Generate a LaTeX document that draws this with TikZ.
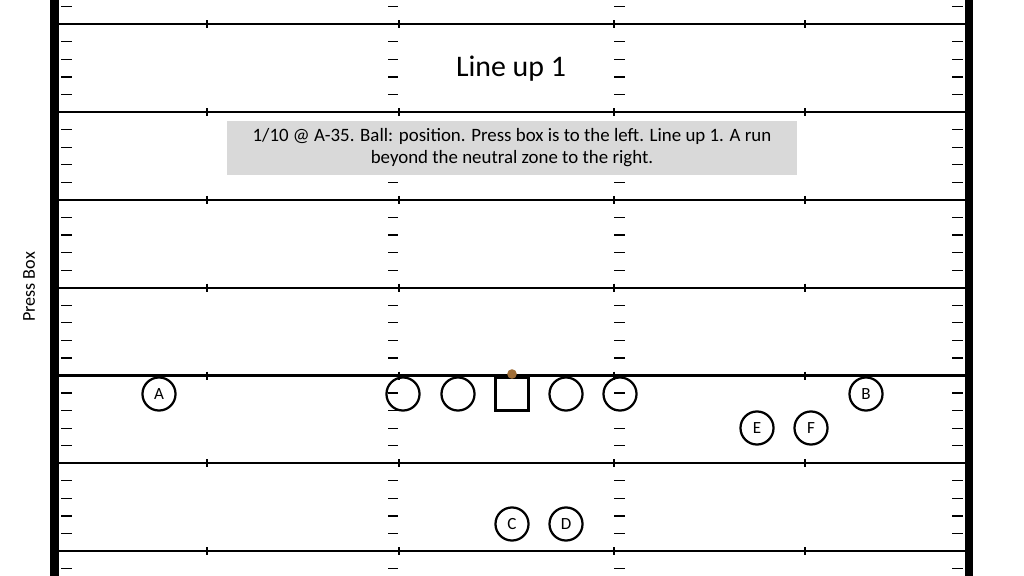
\documentclass[tikz,border=0pt]{standalone}
\usepackage{fontspec}
\setmainfont{Carlito}
\usepackage{tikz}

\definecolor{ballbrown}{RGB}{160,110,55}
\definecolor{notegray}{RGB}{217,217,217}

\begin{document}
\begin{tikzpicture}[x=0.9375pt,y=-0.9375pt,
            yardline/.style={line width=1.9pt},
            hashmark/.style={line width=1.1pt},
            player/.style={circle, draw, line width=2.1pt, minimum size=31pt, inner sep=0pt, font=\fontsize{16}{19}\selectfont},
            snapper/.style={rectangle, draw, line width=2.1pt, minimum size=31pt, inner sep=0pt},
            ball/.style={circle, fill=ballbrown, minimum size=9pt, inner sep=0pt}]
            \useasboundingbox (0,0) rectangle (1024,576);
            % hash marks
            \foreach \j in {-1,...,31} {
                \pgfmathtruncatemacro{\r}{mod(\j+5,5)}
                \ifnum\r>0
                    \pgfmathsetmacro{\hy}{24.3+17.56*\j}
                    \foreach \xa/\xb in {61/72, 388/398, 614/625, 952/963}
                        \draw[hashmark] (\xa,\hy) -- (\xb,\hy);
                \fi
            }
            % yard lines
            \foreach \j in {0,...,6} {
                \pgfmathsetmacro{\ly}{24.3+87.8*\j}
                \draw[yardline] (58,\ly) -- (965,\ly);
                \foreach \tx in {207, 399, 614, 805}
                    \draw[line width=1pt] (\tx,\ly-4) -- (\tx,\ly+4);
            }
            % sidelines
            \fill (50,0) rectangle (58.5,576);
            \fill (964.5,0) rectangle (973,576);
            \node[rotate=90] (pressbox) at (29,287) {\fontsize{17}{20}\selectfont Press Box};
            \node (title) at (511,69) {\fontsize{28}{34}\selectfont Line up 1};
            \node[fill=notegray, minimum width=534pt, minimum height=50.6pt, align=center, font=\fontsize{17.7}{20.6}\selectfont] (note) at (512,148)
                {1/10 @ A-35. Ball: position. Press box is to the left. Line up 1. A run\\beyond the neutral zone to the right.};
            % offense
            \node[player] (lt) at (403,394) {};
            \node[player] (lg) at (458,394) {};
            \node[snapper] (ctr) at (512,394) {};
            \node[player] (rg) at (566,394) {};
            \node[player] (rt) at (620,394) {};
            \node[ball] (ball) at (512,374) {};
            \node[player] (A) at (159,394) {A};
            \node[player] (B) at (866,394) {B};
            \node[player] (E) at (757,428) {E};
            \node[player] (F) at (811,428) {F};
            \node[player] (C) at (512,524) {C};
            \node[player] (D) at (566,524) {D};
        \end{tikzpicture}
\end{document}
